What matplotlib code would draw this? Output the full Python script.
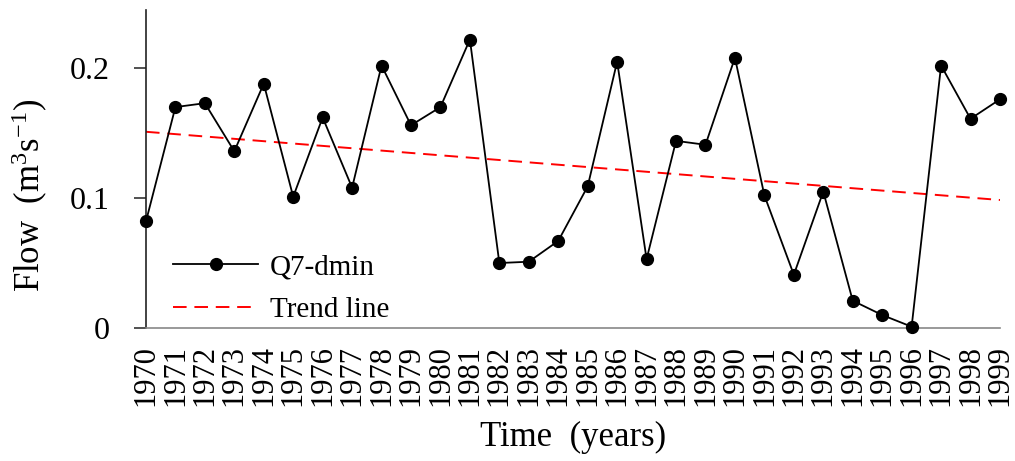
import numpy as np
import matplotlib
matplotlib.use("Agg")
import matplotlib.pyplot as plt

# datos
anios = list(range(1970, 2000))
q7dmin = [0.082, 0.170, 0.173, 0.136, 0.188, 0.101, 0.162, 0.108, 0.202, 0.156,
          0.170, 0.222, 0.050, 0.051, 0.067, 0.109, 0.205, 0.053, 0.144, 0.141,
          0.208, 0.102, 0.041, 0.105, 0.021, 0.010, 0.001, 0.202, 0.161, 0.176]
tendenciaX = [1970, 1999]
tendenciaY = [0.151, 0.0985]

plt.rcParams['font.family'] = ['Liberation Serif', 'DejaVu Serif']
plt.rcParams['mathtext.fontset'] = 'custom'
plt.rcParams['mathtext.rm'] = 'Liberation Serif'
plt.rcParams['mathtext.it'] = 'Liberation Serif:italic'
plt.rcParams['mathtext.bf'] = 'Liberation Serif:bold'

fig = plt.figure(figsize=(10.15, 4.61), dpi=100)
ax = fig.add_axes([0.1438, 0.2885, 0.8414, 0.6895])

ax.plot(anios, q7dmin, color='black', linewidth=1.3, marker='o', markersize=8.5,
        label='Q7-dmin', clip_on=False, zorder=3)
ax.plot(tendenciaX, tendenciaY, color='red', linestyle=(0, (7, 4)), linewidth=1.4,
        label='Trend line', zorder=2)

ax.set_xlim(1970, 1999)
ax.set_ylim(0, 0.2446)
ax.set_yticks([0, 0.1, 0.2])
ax.set_yticklabels(['0', '0.1', '0.2'], fontsize=23)
ax.set_xticks(anios)
ax.set_xticklabels([str(a) for a in anios], rotation=90, fontsize=22)
ax.tick_params(axis='x', length=0, pad=12)
ax.tick_params(axis='y', length=9, width=1.2, direction='out', pad=17, color='#333333')

ax.spines['top'].set_visible(False)
ax.spines['right'].set_visible(False)
ax.spines['left'].set_color('#222222')
ax.spines['left'].set_linewidth(1.2)
ax.spines['bottom'].set_color('#888888')
ax.spines['bottom'].set_linewidth(1.2)

ax.set_ylabel(r'Flow  (m$^{\mathrm{3}}$s$^{\mathrm{-1}}$)', fontsize=25)
ax.yaxis.set_label_coords(-0.112, 0.418)
ax.set_xlabel('Time  (years)', fontsize=25, labelpad=11)

ax.legend(loc='lower left', bbox_to_anchor=(0.015, -0.03), frameon=False, fontsize=21,
          handlelength=2.9, handletextpad=0.4, borderaxespad=0.1, labelspacing=0.55)

plt.savefig('out.png', dpi=100)
